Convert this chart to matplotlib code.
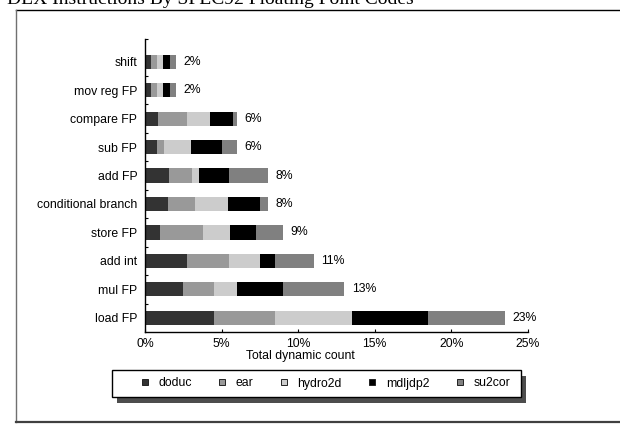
import matplotlib.pyplot as plt
import numpy as np
from matplotlib.lines import Line2D
from matplotlib.patches import Rectangle

plt.rcParams['font.family'] = ['Liberation Sans', 'DejaVu Sans']

# instruction classes, bottom to top
instructions = ['load FP', 'mul FP', 'add int', 'store FP', 'conditional branch',
                'add FP', 'sub FP', 'compare FP', 'mov reg FP', 'shift']
benchmarks = ['doduc', 'ear', 'hydro2d', 'mdljdp2', 'su2cor']
colors = ['#333333', '#999999', '#cccccc', '#000000', '#808080']

# percentage of total dynamic count, one list per benchmark
doduc = [4.5, 2.5, 2.75, 1.0, 1.5, 1.55, 0.8, 0.85, 0.4, 0.4]
ear = [4.0, 2.0, 2.75, 2.8, 1.75, 1.5, 0.45, 1.9, 0.4, 0.4]
hydro2d = [5.0, 1.5, 2.0, 1.75, 2.2, 0.5, 1.75, 1.5, 0.4, 0.4]
mdljdp2 = [5.0, 3.0, 1.0, 1.7, 2.05, 1.95, 2.0, 1.5, 0.4, 0.4]
su2cor = [5.0, 4.0, 2.5, 1.75, 0.5, 2.5, 1.0, 0.25, 0.4, 0.4]
series = [doduc, ear, hydro2d, mdljdp2, su2cor]

fs = 8.8

fig = plt.figure(figsize=(6.2, 4.24), dpi=100)
ax = fig.add_axes([145 / 620, 1 - 332 / 424, 383 / 620, 293 / 424])

y = np.arange(len(instructions))
left = np.zeros(len(instructions))
for name, vals, c in zip(benchmarks, series, colors):
    ax.barh(y, vals, left=left, height=0.5, color=c, label=name)
    left += np.array(vals)

for yi, total in zip(y, left):
    ax.annotate(f"{int(round(total, 6))}%", xy=(total, yi), xytext=(5.5, 0),
                textcoords='offset points', va='center', fontsize=fs)

ax.set_xlim(0, 25)
ax.set_ylim(-0.5, 9.8)
ax.set_xticks(np.arange(0, 26, 5))
ax.set_xticklabels([f"{v}%" for v in range(0, 26, 5)], fontsize=fs)
ax.set_yticks(y)
ax.set_yticklabels(instructions, fontsize=fs)
ax.set_yticks(list(np.arange(0.5, 9, 1)) + [9.8], minor=True)
ax.tick_params(axis='y', which='major', length=0, pad=5.5)
ax.tick_params(axis='y', which='minor', direction='in', length=2.5, width=0.8)
ax.tick_params(axis='x', direction='in', length=2.5, width=0.8, pad=4)
for s in ['top', 'right']:
    ax.spines[s].set_visible(False)
for s in ['left', 'bottom']:
    ax.spines[s].set_linewidth(1)

fig.text(300 / 620, 1 - 356 / 424, 'Total dynamic count', ha='center', va='center', fontsize=fs)

# title, partly running off the top edge
fig.text(7 / 620, 1 - 4 / 424, 'DLX Instructions By SPEC92 Floating Point Codes',
         ha='left', va='baseline', fontsize=14, family=['Liberation Serif', 'DejaVu Serif'])

# outer frame
fig.add_artist(Line2D([16 / 620, 1], [1 - 9.5 / 424] * 2, transform=fig.transFigure, color='black', lw=1))
fig.add_artist(Line2D([16 / 620] * 2, [1 - 9.5 / 424, 1 - 422 / 424], transform=fig.transFigure, color='#707070', lw=1))
fig.add_artist(Line2D([16 / 620, 1], [1 - 422 / 424] * 2, transform=fig.transFigure, color='#404040', lw=1.6))

# legend box with drop shadow
fig.add_artist(Rectangle((117 / 620, 1 - 403 / 424), 409 / 620, 27 / 424, transform=fig.transFigure,
                         facecolor='#4d4d4d', edgecolor='none'))
fig.add_artist(Rectangle((112 / 620, 1 - 397 / 424), 409 / 620, 27 / 424, transform=fig.transFigure,
                         facecolor='white', edgecolor='black', lw=1))
handles = [Line2D([], [], marker='s', ls='none', mfc=c, mec='#222222', mew=0.7, ms=5) for c in colors]
fig.legend(handles, benchmarks, ncol=5, mode='expand', frameon=False, loc='center',
           bbox_to_anchor=(135 / 620, 1 - 397 / 424, 380 / 620, 27 / 424),
           fontsize=fs, handlelength=0.8, handletextpad=0.7, borderaxespad=0)

fig.savefig('out.png', dpi=100)
